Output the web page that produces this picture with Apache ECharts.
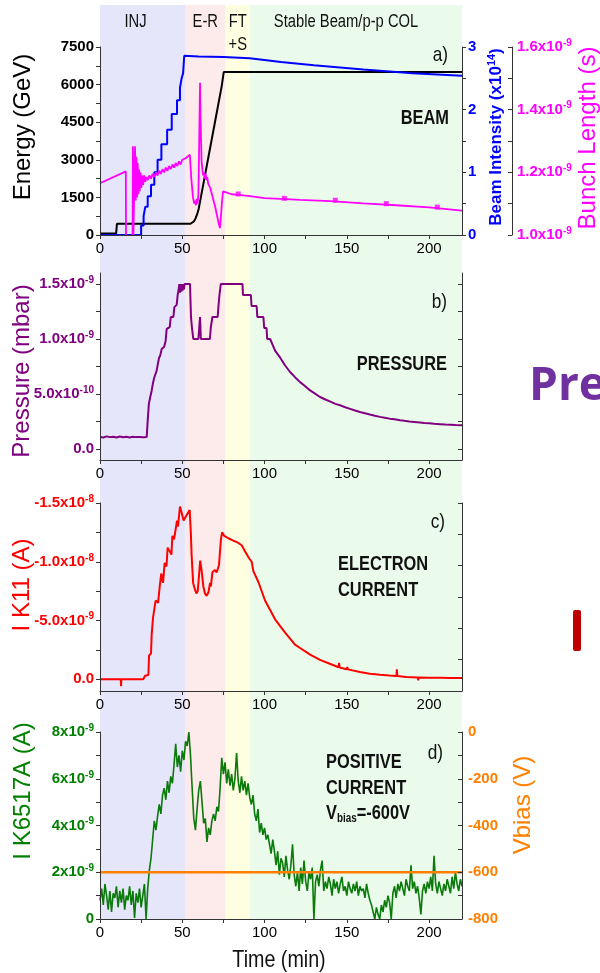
<!DOCTYPE html>
<html>
<head>
<meta charset="utf-8">
<title>LHC beam, pressure and currents</title>
<script src="https://cdn.jsdelivr.net/npm/echarts@6.0.0/dist/echarts.min.js"></script>
<style>
  html, body { margin: 0; padding: 0; background: #fff; }
  #main { width: 600px; height: 973px; }
</style>
</head>
<body>
<div id="main"></div>
<script>
// ---- data (time in min) ----
// machine phases
var phaseNames = ['INJ', 'E-R', 'FT\n+S', 'Stable Beam/p-p COL'];
var phaseStart = [0, 51.7, 76.3, 91.2];
var phaseEnd = [51.7, 76.3, 91.2, 220];
var phaseColors = ['#e6e6fa', '#fdeaea', '#fefee0', '#ebfbeb'];

// a) beam energy (GeV)
var energyData = [[0,60],[9.8,60],[10.3,450],[55,450],[56,480],[57,540],[58,650],[59,820],[60,1050],
  [62,1750],[64,2450],[66,3150],[68,3850],[70,4550],[72,5250],[74,5950],[75.2,6500],[220,6500]];
// a) beam intensity (x1e14)
var intensityData = [[0,0],[25,0],[25,0.15],[26.5,0.15],[26.5,0.3],[27.5,0.3],[27.5,0.45],[29,0.45],[29,0.62],
  [31,0.62],[31,0.8],[33,0.8],[33,1.0],[35,1.0],[35,1.2],[37.3,1.2],[37.3,1.45],[40.8,1.45],[40.8,1.68],
  [43.6,1.68],[43.6,1.93],[46.8,1.93],[46.8,2.15],[48.6,2.15],[48.6,2.35],[49.6,2.35],[49.6,2.5],[50.5,2.5],
  [50.5,2.58],[51.2,2.86],[60,2.85],[75,2.84],[91,2.82],[110,2.76],[130,2.71],[160,2.64],[190,2.58],[220,2.54]];
// a) bunch length (x1e-9 s)
var bunchData = [[0,1.165],[15.7,1.203],[15.8,0.99],[19.8,0.99],[20.0,1.283],[20.3,1.0],[21.0,1.0],[21.3,1.283],
  [21.7,1.11],[22.1,1.25],[22.5,1.12],[22.9,1.23],[23.3,1.13],[23.7,1.21],[24.1,1.14],[24.6,1.2],[25.1,1.15],
  [25.6,1.19],[26.2,1.16],[26.8,1.19],[27.5,1.17],[28.2,1.185],[29,1.175],[30,1.19],[31,1.18],[32,1.195],
  [33,1.185],[34,1.2],[35,1.19],[36,1.205],[37,1.195],[38,1.21],[39,1.2],[40,1.215],[41,1.205],[42,1.22],
  [43,1.21],[44,1.225],[45,1.215],[46,1.23],[47,1.22],[48,1.235],[49,1.225],[50,1.24],[51,1.235],[52,1.245],
  [53,1.25],[54.6,1.256],[55.5,1.18],[56.5,1.12],[57.3,1.1],[57.8,1.11],[58.3,1.095],[58.8,1.115],[59.3,1.1],
  [59.8,1.13],[60.3,1.3],[60.8,1.486],[61.2,1.35],[61.7,1.24],[62.2,1.21],[62.7,1.19],[63.2,1.2],[63.7,1.18],
  [64.2,1.195],[64.7,1.175],[65.2,1.185],[65.7,1.165],[66.3,1.17],[67,1.15],[68,1.13],[69,1.11],[70,1.09],
  [71,1.065],[72,1.04],[72.9,1.022],[73.5,1.06],[74.2,1.11],[74.8,1.139],[76,1.133],[80,1.13],[84,1.128],
  [90,1.125],[100,1.118],[110,1.115],[121.6,1.112],[140,1.108],[160,1.101],[180,1.095],[200,1.088],[220,1.078]];
var bunchDots = [[84,1.131],[112,1.117],[143,1.111],[174,1.1],[205,1.089]];

// b) pressure (x1e-9 mbar)
var pressureData = [[0,0.11],[2,0.105],[4,0.115],[6,0.108],[8,0.112],[10,0.104],[12,0.113],[14,0.107],
  [16,0.111],[18,0.105],[20,0.112],[22,0.108],[24,0.11],[26,0.106],[28.4,0.11],[29,0.26],[29.7,0.41],
  [30.5,0.47],[31.4,0.53],[32.2,0.6],[33,0.65],[33.6,0.66],[34.4,0.71],[35,0.76],[35.9,0.83],[36.6,0.85],
  [37.5,0.91],[38.2,0.9],[39,0.93],[39.9,0.985],[40.5,1.09],[42.4,1.11],[43,1.2],[44.6,1.2],[45.2,1.29],
  [46.6,1.31],[47.2,1.4],[47.8,1.45],[48.2,1.5],[48.6,1.42],[49,1.5],[49.4,1.43],[49.8,1.5],[50.2,1.44],
  [50.6,1.5],[51,1.45],[51.4,1.5],[52,1.5],[54.7,1.5],[55.3,1.2],[55.9,1.1],[56.7,1.0],[59.8,1.0],[60.3,1.1],
  [60.8,1.2],[61.3,1.0],[66.8,1.0],[67.3,1.1],[68.3,1.2],[71.5,1.2],[72,1.3],[72.6,1.4],[73.4,1.5],[86.6,1.5],
  [86.9,1.4],[91.7,1.4],[92.1,1.3],[95.2,1.3],[95.6,1.2],[99.3,1.2],[99.8,1.1],[101.2,1.1],[101.6,1.0],
  [103.4,1.0],[106.4,0.895],[109.5,0.83],[112.5,0.759],[115.5,0.7],[118.5,0.653],[121.6,0.608],[124,0.58],
  [127,0.54],[130,0.51],[133.7,0.473],[137,0.45],[140,0.43],[143,0.41],[145.9,0.398],[149,0.38],[152,0.365],
  [155,0.35],[158,0.337],[161,0.325],[164,0.313],[167,0.302],[170.2,0.292],[173,0.285],[176,0.276],[179,0.27],
  [182.4,0.262],[185,0.256],[188,0.25],[191,0.246],[194.5,0.241],[197,0.237],[200,0.233],[203,0.229],
  [206.7,0.226],[210,0.223],[213,0.221],[216,0.219],[220,0.217]];

// c) electron current I K11 (x1e-9 A)
var ik11Data = [[0,0],[12.6,0],[12.8,0.6],[13,0],[26.3,0],[27.4,-0.3],[29.4,-0.36],[29.8,-2.0],[31,-2.2],
  [31.4,-3.8],[32.2,-5.2],[33.3,-5.3],[33.8,-6.7],[35.3,-6.5],[36.3,-7.9],[37.2,-9.0],[38.3,-8.2],[39.3,-9.9],
  [40.4,-9.6],[41.1,-11.2],[42.4,-10.9],[43.4,-10.6],[44,-12.2],[45,-11.9],[45.9,-12.7],[46.8,-13.5],
  [47.4,-13.0],[48.6,-14.7],[49.6,-14.2],[50.8,-13.5],[52,-13.8],[54.5,-14.4],[55.2,-12.5],[55.7,-10.5],
  [56.6,-8.2],[57.8,-7.6],[58.6,-7.3],[59.4,-7.5],[60.2,-7.6],[60.9,-10.1],[61.8,-9.2],[62.8,-7.9],[63.8,-7.3],
  [64.8,-7.1],[65.9,-7.4],[66.9,-8.2],[67.4,-7.9],[68.3,-9.1],[69.9,-9.3],[70.9,-9.1],[72.3,-9.7],[73.5,-11.9],
  [74.2,-12.5],[75.5,-12.2],[78,-12.0],[81,-11.8],[84.1,-11.6],[86.1,-11.4],[88.1,-10.9],[90.6,-10.3],
  [92.2,-10.0],[93.2,-9.2],[96.2,-8.3],[100.3,-6.7],[106.4,-5.1],[112.5,-3.96],[118.5,-2.95],[121.6,-2.66],
  [127.7,-2.1],[133.7,-1.65],[140,-1.3],[145,-1.02],[145.3,-1.4],[145.6,-1.0],[150,-0.85],[150.3,-1.05],
  [150.6,-0.84],[158,-0.61],[164,-0.47],[170.2,-0.38],[176,-0.31],[180.2,-0.27],[180.4,-0.85],[180.7,-0.27],
  [186,-0.2],[193.2,-0.15],[193.4,0.1],[193.6,-0.15],[200,-0.13],[206.7,-0.12],[213,-0.11],[220,-0.1]];

// d) positive current I K6517A (x1e-9 A), one reading per minute from t=0
var ik6517 = [0.8,1.3,0.6,1.5,1.0,0.4,1.2,0.3,1.1,0.9, 1.4,0.5,1.2,0.7,1.3,0.4,1.0,0.8,1.4,0.6,
  1.2,0.05,1.1,0.7,1.3,0.5,1.0,1.5,0.0,1.3, 2.1,2.6,3.4,4.2,3.8,4.4,4.9,4.5,5.3,5.6,
  5.1,5.9,5.4,6.1,5.8,6.6,7.5,6.5,7.0,6.3, 7.2,6.8,7.6,7.4,8.0,7.0,5.6,4.3,3.8,4.7,
  5.5,5.9,5.0,4.1,4.3,3.3,3.9,3.6,4.2,4.5, 4.2,4.8,4.6,5.6,6.9,6.2,6.7,5.8,6.4,5.7,
  6.2,5.5,6.0,7.1,5.9,5.4,6.1,5.5,5.9,5.3, 5.8,5.2,4.9,5.3,4.5,4.2,4.7,3.7,4.1,3.6,
  3.9,3.4,3.6,3.2,2.8,3.4,2.9,2.3,2.9,1.9, 2.6,2.4,1.8,2.7,2.1,1.7,2.3,3.2,1.9,1.4,
  2.0,1.2,2.2,1.5,2.5,1.6,1.2,2.0,1.7,2.2, 0.0,1.6,1.9,1.4,2.1,2.5,1.2,1.6,1.3,1.8,
  1.5,1.0,1.7,1.3,1.6,1.1,1.5,1.8,1.2,1.4, 1.0,1.6,1.3,1.1,1.5,1.2,1.6,1.0,1.4,1.2,
  1.3,0.9,1.5,1.1,0.8,0.6,0.3,0.0,0.5,0.2, 0.0,0.6,0.3,0.8,0.5,1.0,0.7,0.0,1.1,1.4,
  0.9,1.5,1.2,1.6,1.3,1.0,1.7,1.4,1.2,2.3, 1.3,1.6,1.1,1.4,0.9,0.2,1.2,1.5,1.1,1.6,
  1.3,1.8,1.2,2.7,1.5,1.1,1.6,1.3,1.0,1.5, 1.2,1.7,1.4,1.1,1.8,1.3,2.0,1.5,1.2,1.7,1.4];
// d) bias voltage (V)
var vbiasData = [[0,-600],[220,-600]];

// tick labels
var timeLabels = [0, 50, 100, 150, 200];
var timeTicks = [0, 25, 50, 75, 100, 125, 150, 175, 200];
var energyLabels = [0, 1500, 3000, 4500, 6000, 7500];
var energyTicks = [0, 750, 1500, 2250, 3000, 3750, 4500, 5250, 6000, 6750, 7500];
var intensityLabels = [0, 1, 2, 3];
var intensityTicks = [0, 0.5, 1, 1.5, 2, 2.5, 3];
var bunchTicks = [1.0, 1.1, 1.2, 1.3, 1.4, 1.5, 1.6];
var bunchLabels = [[1.0, '1.0', '-9'], [1.2, '1.2', '-9'], [1.4, '1.4', '-9'], [1.6, '1.6', '-9']];
var pressureTicks = [0, 0.25, 0.5, 0.75, 1.0, 1.25, 1.5];
var pressureLabels = [[0, '0.0', ''], [0.5, '5.0', '-10'], [1.0, '1.0', '-9'], [1.5, '1.5', '-9']];
var ik11Ticks = [-15, -12.5, -10, -7.5, -5, -2.5, 0];
var ik11Labels = [[-15, '-1.5', '-8'], [-10, '-1.0', '-8'], [-5, '-5.0', '-9'], [0, '0.0', '']];
var ik6517Ticks = [0, 1, 2, 3, 4, 5, 6, 7, 8];
var ik6517Labels = [[0, '0', ''], [2, '2', '-9'], [4, '4', '-9'], [6, '6', '-9'], [8, '8', '-9']];
var vbiasTicks = [-800, -700, -600, -500, -400, -300, -200, -100, 0];
var vbiasLabels = [-800, -600, -400, -200, 0];

// ---- chart ----
var SANS = "'Liberation Sans',Arial,sans-serif";
var AXIS = '#333';
var NARROW_X = 0.82;   // no narrow font installed: squeeze texts instead

function sciRich(color) {
    return {
        m: { fontFamily: SANS, fontSize: 15, fontWeight: 'bold', color: color, lineHeight: 18 },
        s: { fontFamily: SANS, fontSize: 10, fontWeight: 'bold', color: color, lineHeight: 7, verticalAlign: 'top' }
    };
}
function sciFormatter(list) {
    return function (v) {
        for (var i = 0; i < list.length; i++) {
            if (Math.abs(list[i][0] - v) < 1e-6) {
                return list[i][2] ? '{m|' + list[i][1] + 'x10}{s|' + list[i][2] + '}' : '{m|' + list[i][1] + '}';
            }
        }
        return '';
    };
}
function vals(list) { return list.map(function (d) { return d[0]; }); }
function plain(v) { return String(v); }

var grids = [
    { left: 100, top: 5, width: 362, height: 914 },
    { left: 100, top: 47, width: 362, height: 188 },
    { left: 100, top: 273, width: 362, height: 187 },
    { left: 100, top: 503, width: 362, height: 188 },
    { left: 100, top: 732, width: 362, height: 187 }
];

function timeAxis(g) {
    return {
        type: 'value', gridIndex: g, min: 0, max: 220, z: 5,
        axisLine: { onZero: false, lineStyle: { color: AXIS } },
        axisTick: { customValues: timeTicks, length: 4, lineStyle: { color: AXIS } },
        axisLabel: { customValues: timeLabels, margin: 6, color: '#000', fontSize: 15, fontFamily: SANS, formatter: plain },
        splitLine: { show: false }
    };
}
function yAxisBase(g, pos, min, max) {
    return {
        type: 'value', gridIndex: g, position: pos, min: min, max: max, z: 5,
        axisLine: { show: true, onZero: false, lineStyle: { color: AXIS } },
        splitLine: { show: false }
    };
}
function boldLabels(values, color) {
    return { customValues: values, margin: 6, color: color, fontSize: 15, fontWeight: 'bold', fontFamily: SANS, formatter: plain };
}

var xAxes = [{ type: 'value', gridIndex: 0, min: 0, max: 220, show: false }];
for (var g = 1; g <= 4; g++) xAxes.push(timeAxis(g));

var yAxes = [];
yAxes.push({ type: 'value', gridIndex: 0, min: 0, max: 1, show: false });
// 1 energy
yAxes.push(Object.assign(yAxisBase(1, 'left', 0, 7500), {
    axisTick: { customValues: energyTicks, length: 4, lineStyle: { color: AXIS } },
    axisLabel: boldLabels(energyLabels, '#000')
}));
// 2 beam intensity
yAxes.push(Object.assign(yAxisBase(1, 'right', 0, 3), {
    axisTick: { customValues: intensityTicks, length: 4, lineStyle: { color: AXIS } },
    axisLabel: boldLabels(intensityLabels, '#0000ff')
}));
// 3 bunch length
yAxes.push(Object.assign(yAxisBase(1, 'right', 1.0, 1.6), {
    offset: 50,
    axisTick: { inside: true, customValues: bunchTicks, length: 4, lineStyle: { color: AXIS } },
    axisLabel: { customValues: vals(bunchLabels), margin: 5, formatter: sciFormatter(bunchLabels), rich: sciRich('#ff00ff') }
}));
// 4 pressure
yAxes.push(Object.assign(yAxisBase(2, 'left', -0.1, 1.6), {
    axisTick: { customValues: pressureTicks, length: 4, lineStyle: { color: AXIS } },
    axisLabel: { customValues: vals(pressureLabels), margin: 6, formatter: sciFormatter(pressureLabels), rich: sciRich('#800080') }
}));
// 5 pressure frame right
yAxes.push(Object.assign(yAxisBase(2, 'right', -0.1, 1.6), {
    axisTick: { inside: true, customValues: pressureTicks, length: 4, lineStyle: { color: AXIS } },
    axisLabel: { show: false }
}));
// 6 I K11 (inverted)
yAxes.push(Object.assign(yAxisBase(3, 'left', -15, 1.0), {
    inverse: true,
    axisTick: { customValues: ik11Ticks, length: 4, lineStyle: { color: AXIS } },
    axisLabel: { customValues: vals(ik11Labels), margin: 6, formatter: sciFormatter(ik11Labels), rich: sciRich('#ff0000') }
}));
// 7 frame right
yAxes.push(Object.assign(yAxisBase(3, 'right', 0, 6), {
    axisTick: { inside: true, customValues: [1, 2, 3, 4, 5, 6], length: 4, lineStyle: { color: AXIS } },
    axisLabel: { show: false }
}));
// 8 I K6517A
yAxes.push(Object.assign(yAxisBase(4, 'left', 0, 8), {
    axisTick: { customValues: ik6517Ticks, length: 4, lineStyle: { color: AXIS } },
    axisLabel: { customValues: vals(ik6517Labels), margin: 6, formatter: sciFormatter(ik6517Labels), rich: sciRich('#008000') }
}));
// 9 Vbias
yAxes.push(Object.assign(yAxisBase(4, 'right', -800, 0), {
    axisTick: { inside: true, customValues: vbiasTicks, length: 4, lineStyle: { color: AXIS } },
    axisLabel: boldLabels(vbiasLabels, '#ff8000')
}));

var phaseAreas = phaseNames.map(function (name, i) {
    return [{ xAxis: phaseStart[i], itemStyle: { color: phaseColors[i] } }, { xAxis: phaseEnd[i] }];
});

function line(x, y, data, color, width) {
    return {
        type: 'line', xAxisIndex: x, yAxisIndex: y, data: data, showSymbol: false, symbol: 'none',
        lineStyle: { color: color, width: width }, itemStyle: { color: color }, silent: true
    };
}

var series = [
    {
        type: 'line', xAxisIndex: 0, yAxisIndex: 0, data: [[0, -1]], showSymbol: false, silent: true,
        z: -10, lineStyle: { opacity: 0 },
        markArea: { silent: true, z: -10, data: phaseAreas }
    },
    line(1, 1, energyData, '#000000', 2),
    line(1, 2, intensityData, '#0000ff', 2),
    line(1, 3, bunchData, '#ff00ff', 1.8),
    {
        type: 'scatter', xAxisIndex: 1, yAxisIndex: 3, data: bunchDots, symbol: 'rect', symbolSize: 5,
        itemStyle: { color: '#ff00ff' }, silent: true
    },
    line(2, 4, pressureData, '#800080', 2),
    line(3, 6, ik11Data, '#ff0000', 2),
    line(4, 8, ik6517.map(function (v, i) { return [i, v]; }), '#0a7a0a', 1.6),
    line(4, 9, vbiasData, '#ff8000', 2.5)
];

function vtitle(text, x, y, color, size) {
    return {
        type: 'text', x: x, y: y, rotation: Math.PI / 2, silent: true,
        style: { text: text, fill: color, fontSize: size, fontFamily: SANS, align: 'center', verticalAlign: 'middle' }
    };
}
function note(text, x, y, align, size, weight) {
    return {
        type: 'text', x: x, y: y, scaleX: NARROW_X, silent: true,
        style: { text: text, fill: '#111', fontSize: size, fontWeight: weight, fontFamily: SANS,
            align: align, verticalAlign: 'middle', lineHeight: 26 }
    };
}

var graphics = [
    vtitle('Energy (GeV)', 23, 127, '#000', 24),
    vtitle('Pressure (mbar)', 22, 371, '#800080', 24),
    vtitle('I K11 (A)', 22, 585, '#ff0000', 24),
    vtitle('I K6517A (A)', 23, 791, '#008000', 24),
    vtitle('Bunch Length (s)', 588, 138, '#ff00ff', 24),
    vtitle('Vbias (V)', 523, 805, '#ff8000', 24),
    {
        type: 'text', x: 496, y: 137, rotation: Math.PI / 2, silent: true,
        style: {
            text: '{a|Beam Intensity (x10}{s|14}{a|)}', align: 'center', verticalAlign: 'middle',
            rich: {
                a: { fill: '#0000ff', fontSize: 17, fontWeight: 'bold', fontFamily: SANS, lineHeight: 20 },
                s: { fill: '#0000ff', fontSize: 11, fontWeight: 'bold', fontFamily: SANS, lineHeight: 8, verticalAlign: 'top' }
            }
        }
    },
    note('Time (min)', 279, 960, 'center', 24, 'normal'),
    note('a)', 448, 55, 'right', 21, 'normal'),
    note('BEAM', 449, 118, 'right', 20, 'bold'),
    note('b)', 447, 302, 'right', 21, 'normal'),
    note('PRESSURE', 447, 364, 'right', 20, 'bold'),
    note('c)', 445, 522, 'right', 21, 'normal'),
    note('ELECTRON\nCURRENT', 338, 577, 'left', 20, 'bold'),
    note('d)', 443, 753, 'right', 21, 'normal'),
    note('POSITIVE\nCURRENT', 326, 775, 'left', 20, 'bold'),
    {
        type: 'text', x: 326, y: 813, scaleX: NARROW_X, silent: true,
        style: {
            text: '{v|V}{b|bias}{v|=-600V}', align: 'left', verticalAlign: 'middle',
            rich: {
                v: { fill: '#111', fontSize: 20, fontWeight: 'bold', fontFamily: SANS, lineHeight: 24 },
                b: { fill: '#111', fontSize: 12, fontWeight: 'bold', fontFamily: SANS, lineHeight: 10, verticalAlign: 'bottom' }
            }
        }
    },
    {
        type: 'text', x: 529, y: 387, silent: true,
        style: { text: 'Pre', fill: '#7030a0', fontSize: 46, fontWeight: 'bold', fontFamily: "'Open Sans','Noto Sans',sans-serif",
            align: 'left', verticalAlign: 'middle' }
    },
    {
        type: 'rect', silent: true, shape: { x: 573, y: 610, width: 8, height: 41, r: 2 },
        style: { fill: '#c00000' }
    }
];

var chart = echarts.init(document.getElementById('main'), null, { renderer: 'canvas' });
chart.setOption({
    animation: false,
    backgroundColor: '#ffffff',
    grid: grids,
    xAxis: xAxes,
    yAxis: yAxes,
    series: series
});

// phase names centred on their shaded band
var phaseShift = [-7, 0, 0, -10];
phaseNames.forEach(function (name, i) {
    var cx = chart.convertToPixel({ xAxisIndex: 0 }, (phaseStart[i] + phaseEnd[i]) / 2);
    graphics.push({
        type: 'text', x: cx + phaseShift[i], y: 11, scaleX: NARROW_X, silent: true,
        style: { text: name, fill: '#111', fontSize: 18, fontFamily: SANS, align: 'center',
            verticalAlign: 'top', lineHeight: 23 }
    });
});
chart.setOption({ graphic: graphics });
</script>
</body>
</html>
